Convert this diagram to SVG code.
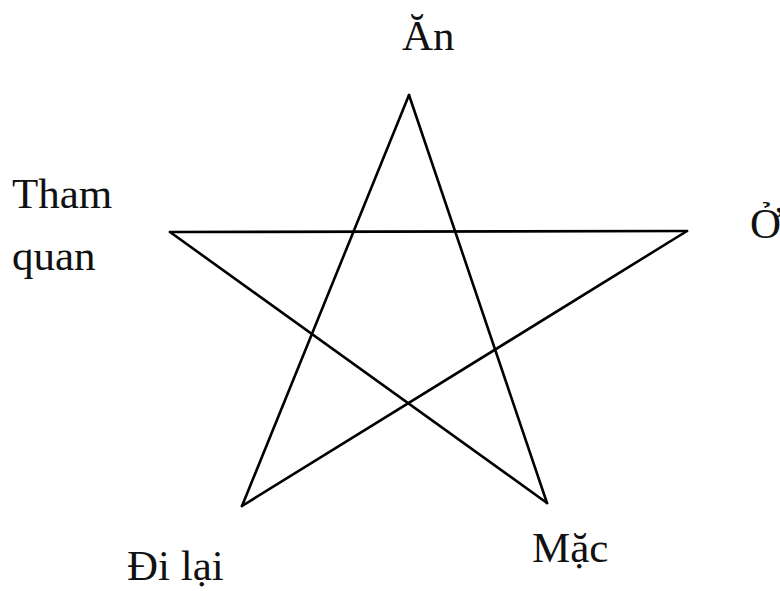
<svg xmlns="http://www.w3.org/2000/svg" width="780" height="591" viewBox="0 0 780 591">
<style>
.l{stroke:#000;stroke-width:2.6;fill:none;stroke-linecap:round;stroke-linejoin:round}
.t{font-family:"Liberation Serif","DejaVu Serif",serif;font-size:43px;fill:#111}
</style>
<rect width="780" height="591" fill="#fff"/>
<g id="connectors">
<line class="l" x1="409" y1="95" x2="242" y2="506"/>
<line class="l" x1="409" y1="95" x2="547" y2="503"/>
<line class="l" x1="170" y1="232" x2="687" y2="231"/>
<line class="l" x1="170" y1="232" x2="547" y2="503"/>
<line class="l" x1="687" y1="231" x2="242" y2="506"/>
</g>
<g id="an"><text class="t" x="402" y="50">Ăn</text></g>
<g id="thamquan"><text class="t" x="12" y="208">Tham</text><text class="t" x="12" y="270">quan</text></g>
<g id="o"><text class="t" x="750" y="238">Ở</text></g>
<g id="mac"><text class="t" x="532" y="562">Mặc</text></g>
<g id="dilai"><text class="t" x="127" y="580">Đi lại</text></g>
</svg>
